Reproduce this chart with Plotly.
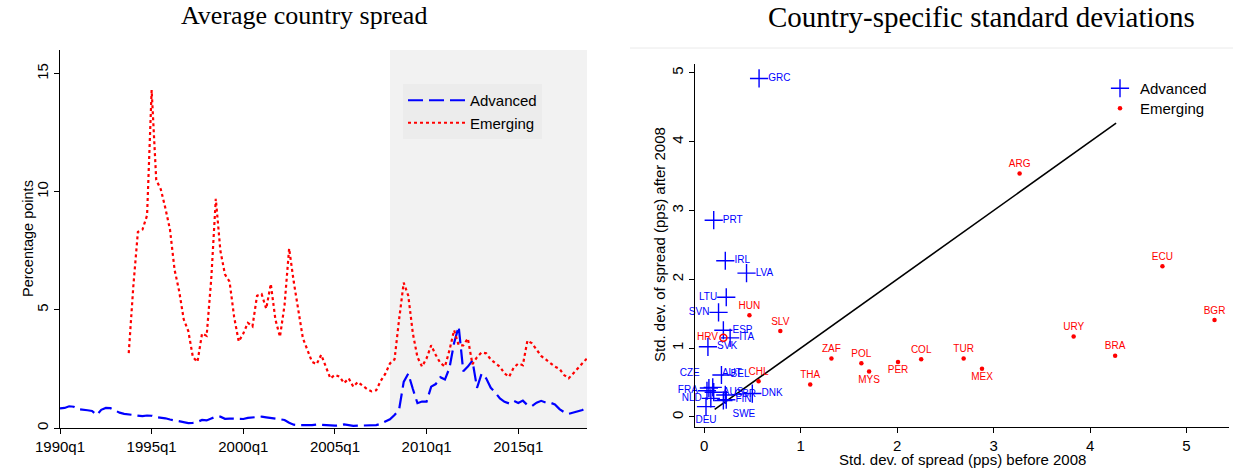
import plotly.graph_objects as go

# ---------------- Left panel data (quarterly, 1990q1 .. 2018q4) ----------------
adv_start = (1990, 1)
advanced_spread = [
    0.83, 0.85, 0.92, 0.90, 0.80, 0.76, 0.75, 0.72, 0.55, 0.77,
    0.85, 0.84, 0.73, 0.65, 0.60, 0.58, 0.57, 0.55, 0.50, 0.53,
    0.52, 0.46, 0.44, 0.41, 0.36, 0.32, 0.27, 0.23, 0.21, 0.22,
    0.26, 0.34, 0.32, 0.40, 0.48, 0.48, 0.39, 0.40, 0.39, 0.36,
    0.38, 0.43, 0.44, 0.44, 0.48, 0.45, 0.42, 0.39, 0.37, 0.34,
    0.22, 0.14, 0.12, 0.11, 0.10, 0.12, 0.15, 0.13, 0.11, 0.09,
    0.10, 0.11, 0.15, 0.12, 0.09, 0.10, 0.11, 0.11, 0.11, 0.12,
    0.18, 0.26, 0.37, 0.55, 0.78, 1.95, 2.30, 1.65, 1.05, 1.12,
    1.12, 1.75, 1.86, 2.15, 2.05, 2.55, 3.60, 4.30, 2.40, 2.60,
    2.85, 1.70, 2.30, 2.10, 1.70, 1.50, 1.25, 1.11, 1.04, 1.15,
    1.06, 1.16, 0.97, 0.93, 1.07, 1.15, 1.08, 1.07, 1.00, 0.80,
    0.67, 0.60, 0.66, 0.69, 0.76, 0.90,
]
emg_start = (1993, 4)
emerging_spread = [
    3.17, 6.00, 8.30, 8.40, 9.00, 14.30, 10.50, 10.10, 9.30, 8.40,
    6.70, 5.80, 4.60, 4.10, 3.00, 2.80, 4.00, 3.90, 6.30, 9.70,
    7.50, 6.50, 6.20, 4.70, 3.66, 4.00, 4.45, 4.30, 5.60, 5.67,
    5.05, 6.10, 4.60, 3.86, 5.20, 7.60, 6.20, 5.00, 3.80, 3.30,
    2.80, 2.70, 3.10, 2.60, 2.10, 2.25, 2.17, 1.90, 2.10, 1.75,
    1.95, 1.80, 1.65, 1.55, 1.60, 2.00, 2.30, 2.73, 2.90, 4.60,
    6.15, 5.60, 4.00, 3.00, 2.60, 2.95, 3.50, 3.09, 2.75, 2.60,
    3.30, 4.14, 3.50, 3.50, 3.79, 2.70, 3.00, 3.20, 3.16, 2.90,
    2.75, 2.59, 2.31, 2.17, 2.55, 2.73, 2.66, 3.70, 3.58, 3.30,
    3.05, 2.90, 2.75, 2.60, 2.50, 2.24, 2.10, 2.31, 2.55, 2.75,
    2.95,
]
x_tick_years = [1990, 1995, 2000, 2005, 2010, 2015]
x_tick_labels = ["1990q1", "1995q1", "2000q1", "2005q1", "2010q1", "2015q1"]
y_left_ticks = [0, 5, 10, 15]
crisis_start = 2008.0

def quarter_axis(start, n):
    y0, q0 = start
    return [y0 + (q0 - 1 + i) / 4.0 for i in range(n)]

adv_x = quarter_axis(adv_start, len(advanced_spread))
emg_x = quarter_axis(emg_start, len(emerging_spread))

# ---------------- Right panel data ----------------
adv_countries = ["GRC", "PRT", "IRL", "LVA", "LTU", "SVN", "ESP", "ITA", "SVK", "BEL",
                 "CZE", "AUT", "FRA", "NLD", "AUS", "GBR", "FIN", "SWE", "DNK", "DEU"]
adv_sd_before = [0.57, 0.10, 0.22, 0.44, 0.23, 0.15, 0.20, 0.27, 0.04, 0.18,
                 0.05, 0.09, 0.03, 0.07, 0.10, 0.22, 0.23, 0.20, 0.50, 0.02]
adv_sd_after = [4.92, 2.86, 2.27, 2.09, 1.74, 1.52, 1.26, 1.15, 1.02, 0.61,
                0.42, 0.43, 0.38, 0.27, 0.36, 0.32, 0.25, 0.24, 0.34, 0.15]
adv_label_pos = ["middle right", "middle right", "middle right", "middle right", "middle left",
                 "middle left", "middle right", "middle right", "middle right", "middle right",
                 "top left", "top right", "middle left", "middle left", "middle right",
                 "middle right", "middle right", "bottom right", "middle right", "bottom center"]

emg_countries = ["ARG", "ECU", "BGR", "URY", "BRA", "TUR", "MEX", "COL", "PER", "POL",
                 "MYS", "ZAF", "THA", "SLV", "HUN", "CHL", "HRV"]
emg_sd_before = [3.27, 4.75, 5.29, 3.83, 4.26, 2.69, 2.88, 2.25, 2.01, 1.63,
                 1.71, 1.32, 1.10, 0.79, 0.47, 0.565, 0.20]
emg_sd_after = [3.54, 2.19, 1.41, 1.17, 0.89, 0.85, 0.70, 0.84, 0.80, 0.78,
                0.66, 0.85, 0.47, 1.25, 1.48, 0.52, 1.15]
emg_label_pos = ["top center", "top center", "top center", "top center", "top center",
                 "top center", "bottom center", "top center", "bottom center", "top center",
                 "bottom center", "top center", "top center", "top center", "top center",
                 "top center", "middle left"]
hollow_marker_countries = ["HRV"]

diag_x = [0.11, 4.27]
diag_y = [0.11, 4.27]
xr_ticks = [0, 1, 2, 3, 4, 5]
yr_ticks = [0, 1, 2, 3, 4, 5]

BLUE = "#0000ff"
RED = "#ff0000"
SANS = "Liberation Sans, Arial, sans-serif"
SERIF = "Liberation Serif, Times New Roman, serif"
W, H = 1233, 475

fig = go.Figure()

# Left panel
fig.add_trace(go.Scatter(
    x=adv_x, y=advanced_spread, mode="lines", name="Advanced",
    line=dict(color=BLUE, width=2.2, dash="15px,6px"),
    xaxis="x", yaxis="y", legend="legend"))
fig.add_trace(go.Scatter(
    x=emg_x, y=emerging_spread, mode="lines", name="Emerging",
    line=dict(color=RED, width=2.2, dash="3px,3px"),
    xaxis="x", yaxis="y", legend="legend"))

# Right panel
fig.add_trace(go.Scatter(
    x=diag_x, y=diag_y, mode="lines", showlegend=False,
    line=dict(color="black", width=1.6), xaxis="x2", yaxis="y2"))
fig.add_trace(go.Scatter(
    x=adv_sd_before, y=adv_sd_after, text=adv_countries, mode="markers+text",
    textposition=adv_label_pos, name="Advanced", cliponaxis=False,
    marker=dict(symbol="cross-thin", size=13, line=dict(color=BLUE, width=1.4), color=BLUE),
    textfont=dict(family=SANS, size=10, color=BLUE),
    xaxis="x2", yaxis="y2", legend="legend2"))
solid_idx = [i for i, c in enumerate(emg_countries) if c not in hollow_marker_countries]
hollow_idx = [i for i, c in enumerate(emg_countries) if c in hollow_marker_countries]
fig.add_trace(go.Scatter(
    x=[emg_sd_before[i] for i in solid_idx], y=[emg_sd_after[i] for i in solid_idx],
    text=[emg_countries[i] for i in solid_idx], mode="markers+text",
    textposition=[emg_label_pos[i] for i in solid_idx], name="Emerging", cliponaxis=False,
    marker=dict(symbol="circle", size=4.5, color=RED),
    textfont=dict(family=SANS, size=10, color=RED),
    xaxis="x2", yaxis="y2", legend="legend3"))
fig.add_trace(go.Scatter(
    x=[emg_sd_before[i] for i in hollow_idx], y=[emg_sd_after[i] for i in hollow_idx],
    text=[emg_countries[i] for i in hollow_idx], mode="markers+text",
    textposition=[emg_label_pos[i] for i in hollow_idx], showlegend=False, cliponaxis=False,
    marker=dict(symbol="circle-open", size=7, color=RED, line=dict(width=1.5)),
    textfont=dict(family=SANS, size=10, color=RED),
    xaxis="x2", yaxis="y2"))

axis_common = dict(showgrid=False, zeroline=False, showline=True, linecolor="black",
                   linewidth=1.3, ticks="outside", ticklen=5, tickwidth=1.2,
                   tickcolor="black", automargin=False,
                   tickfont=dict(family=SANS, size=15, color="black"))

def px_x(p):
    return p / W

def px_y(p):
    return 1 - p / H

def label(text, x, y, size, family=SANS, angle=0):
    return dict(text=text, x=px_x(x), y=px_y(y), xref="paper", yref="paper",
                xanchor="center", yanchor="middle", showarrow=False, textangle=angle,
                font=dict(family=family, size=size, color="black"))

legend_font = dict(family=SANS, size=15, color="black")

fig.update_layout(
    template="none",
    width=W, height=H,
    margin=dict(l=0, r=0, t=0, b=0, pad=0),
    paper_bgcolor="white", plot_bgcolor="white",
    xaxis=dict(domain=[px_x(60), px_x(587)], range=[adv_x[0], adv_x[-1]],
               tickvals=x_tick_years, ticktext=x_tick_labels, anchor="y", **axis_common),
    yaxis=dict(domain=[px_y(428), px_y(50)], range=[0, 16], tickvals=y_left_ticks,
               tickangle=-90, anchor="x", **axis_common),
    xaxis2=dict(domain=[px_x(695), px_x(1229)], range=[-0.094, 5.44], tickvals=xr_ticks,
                anchor="y2", **axis_common),
    yaxis2=dict(domain=[px_y(427), px_y(64)], range=[-0.146, 5.13], tickvals=yr_ticks,
                tickangle=-90, anchor="x2", **axis_common),
    legend=dict(x=px_x(403), y=px_y(84), xanchor="left", yanchor="top",
                bgcolor="#ececec", borderwidth=0, itemwidth=57,
                font=legend_font, tracegroupgap=0),
    legend2=dict(x=px_x(1100), y=px_y(72), xanchor="left", yanchor="top",
                 bgcolor="rgba(0,0,0,0)", borderwidth=0, font=legend_font),
    legend3=dict(x=px_x(1100), y=px_y(92), xanchor="left", yanchor="top",
                 bgcolor="rgba(0,0,0,0)", borderwidth=0, font=legend_font),
    shapes=[
        dict(type="rect", xref="x", yref="y", x0=crisis_start, x1=adv_x[-1], y0=0, y1=16,
             fillcolor="#f2f2f2", line=dict(width=0), layer="below"),
        dict(type="line", xref="paper", yref="paper", x0=px_x(630), x1=1, y0=px_y(48),
             y1=px_y(48), line=dict(color="#eaeaea", width=1)),
    ],
    annotations=[
        label("Average country spread", 304, 16, 26, SERIF),
        label("Country-specific standard deviations", 982, 17, 29, SERIF),
        label("Percentage points", 28, 239, 14.5, angle=-90),
        label("Std. dev. of spread (pps) after 2008", 659, 245, 15, angle=-90),
        label("Std. dev. of spread (pps) before 2008", 962, 459, 15),
    ],
)

fig.write_html("out.html", post_script="document.body.style.margin='0px';",
               config={"displayModeBar": False})
